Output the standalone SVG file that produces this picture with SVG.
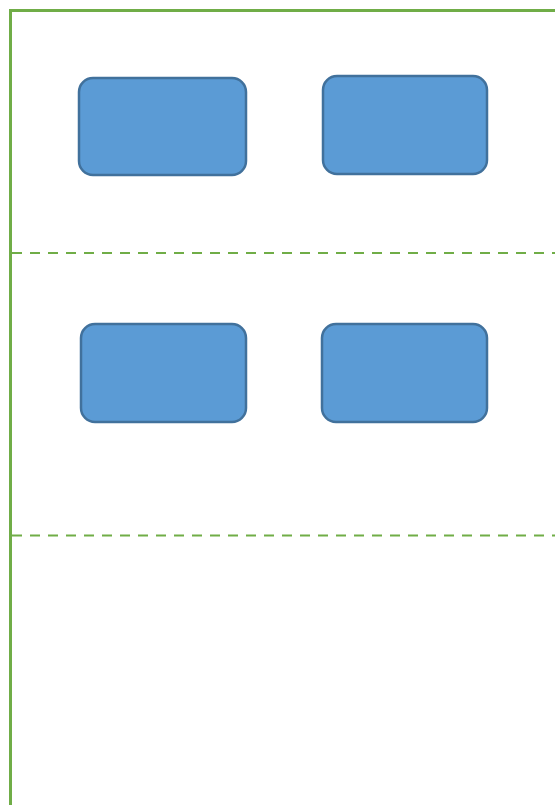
<svg xmlns="http://www.w3.org/2000/svg" width="555" height="805" viewBox="0 0 555 805">
<style>
.frame{fill:none;stroke:#70AD47;stroke-width:3}
.sep{fill:none;stroke:#70AD47;stroke-width:2;stroke-dasharray:10 8}
.node{fill:#5B9BD5;stroke:#41719C;stroke-width:2.5}
</style>
<rect width="555" height="805" fill="#ffffff"/>
<g id="lanes">
<path class="frame" d="M10.5,810 V10.5 H560"/>
<line class="sep" x1="12" y1="253" x2="555" y2="253"/>
<line class="sep" x1="12" y1="535.5" x2="555" y2="535.5"/>
</g>
<g id="connectors"></g>
<g id="node1"><rect class="node" x="79" y="78" width="167" height="97" rx="14"/></g>
<g id="node2"><rect class="node" x="323" y="76" width="164" height="98" rx="14"/></g>
<g id="node3"><rect class="node" x="81" y="324" width="165" height="98" rx="14"/></g>
<g id="node4"><rect class="node" x="322" y="324" width="165" height="98" rx="14"/></g>
</svg>
